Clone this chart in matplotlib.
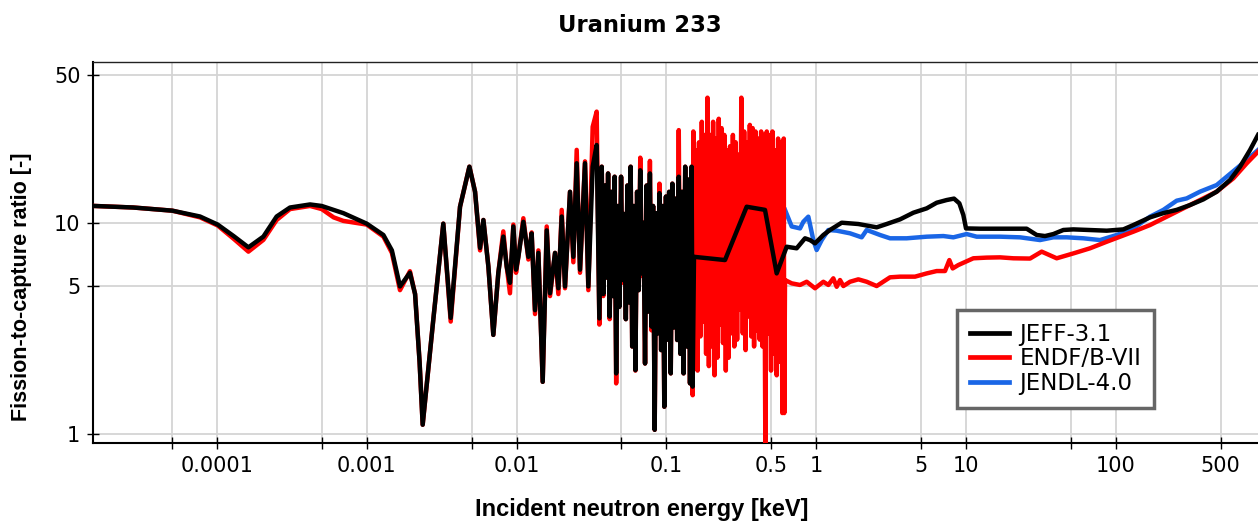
import matplotlib
matplotlib.use("Agg")
import matplotlib.pyplot as plt
from matplotlib.ticker import FixedLocator, FixedFormatter, NullLocator

# ---- JEFF-3.1 ----
# smooth thermal / low resolved range
E_jeff_low = [1.52e-5, 2.76e-5, 5.03e-5, 7.70e-5, 1.01e-4, 1.29e-4, 1.62e-4, 2.04e-4, 2.50e-4,
              3.07e-4, 4.18e-4, 5.00e-4, 6.97e-4, 9.98e-4, 1.29e-3, 1.47e-3, 1.665e-3, 1.94e-3,
              2.10e-3, 2.25e-3, 2.36e-3, 2.78e-3, 3.24e-3, 3.63e-3, 4.19e-3, 4.84e-3, 5.28e-3,
              5.70e-3, 6.00e-3, 6.48e-3, 6.99e-3, 7.55e-3, 8.15e-3, 8.59e-3, 9.03e-3, 9.51e-3,
              9.91e-3, 1.027e-2, 1.109e-2, 1.198e-2, 1.260e-2, 1.327e-2, 1.397e-2, 1.493e-2,
              1.588e-2, 1.671e-2, 1.805e-2, 1.900e-2, 2.000e-2, 2.104e-2, 2.272e-2, 2.392e-2,
              2.518e-2, 2.650e-2, 2.861e-2, 3.012e-2, 3.219e-2, 3.423e-2, 3.567e-2]
R_jeff_low = [12.0, 11.8, 11.4, 10.7, 9.8, 8.65, 7.65, 8.6, 10.7,
              11.8, 12.2, 12.0, 11.1, 9.9, 8.75, 7.4, 5.0, 5.8,
              4.6, 2.2, 1.11, 3.5, 9.9, 3.55, 11.9, 18.4, 14.0,
              7.6, 10.3, 6.2, 2.95, 5.8, 8.6, 6.2, 5.2, 9.6,
              6.0, 6.9, 10.1, 6.9, 8.9, 3.86, 7.2, 1.77,
              9.2, 4.64, 7.2, 4.9, 10.7, 5.0, 14.0, 6.9,
              19.1, 6.0, 19.1, 5.0, 18.4, 23.3, 3.53]
# dense resonance range
E_res = [0.0370, 0.0379, 0.0389, 0.0398, 0.0408, 0.0418, 0.0429, 0.0440, 0.0451, 0.0462,
         0.0474, 0.0485, 0.0498, 0.0510, 0.0523, 0.0536, 0.0549, 0.0563, 0.0577, 0.0591,
         0.0606, 0.0621, 0.0637, 0.0653, 0.0669, 0.0686, 0.0703, 0.0720, 0.0738, 0.0757,
         0.0776, 0.0795, 0.0815, 0.0835, 0.0856, 0.0877, 0.0899, 0.0922, 0.0945, 0.0968,
         0.0993, 0.1017, 0.1043, 0.1069, 0.1096, 0.1123, 0.1151, 0.1180, 0.1209, 0.1240,
         0.1271, 0.1302, 0.1335, 0.1368, 0.1402, 0.1437, 0.1473, 0.1497]
R_jeff_res = [18.4, 4.6, 15, 5.5, 17.1, 3.6, 14, 4.5, 16.5, 1.94,
              12, 4.0, 16.5, 5.36, 11, 3.5, 15, 4.2, 18.4, 2.6,
              12, 2.01, 14, 4.8, 17.7, 5.76, 10, 2.16, 15, 3.8,
              17.1, 3.23, 12, 1.05, 11.1, 3.0, 13.8, 2.5, 12, 1.35,
              13.3, 2.8, 14, 1.94, 15.3, 3.2, 13, 2.79, 16.5, 2.4,
              14, 1.94, 18.4, 2.6, 16, 1.74, 18.4, 1.68]
# unresolved / fast range
E_jeff_high = [0.1528, 0.2461, 0.3434, 0.4551, 0.5446, 0.6353, 0.7405, 0.842, 0.909, 0.982,
               1.116, 1.236, 1.479, 1.911, 2.533, 2.954, 3.627, 4.452, 5.464, 6.372, 7.430,
               8.318, 9.028, 9.600, 10.0, 12.41, 16.87, 25.41, 29.64, 33.69, 38.30, 44.66,
               52.06, 67.27, 86.94, 112.3, 131.0, 169.2, 207.7, 255.0, 313.0, 384.1, 471.6,
               578.8, 675.0, 787.2, 890.3]
R_jeff_high = [6.9, 6.66, 11.9, 11.5, 5.76, 7.7, 7.57, 8.44, 8.28, 7.99,
               8.75, 9.24, 10.0, 9.86, 9.51, 9.86, 10.37, 11.15, 11.69, 12.43, 12.80,
               13.0, 12.35, 10.87, 9.40, 9.37, 9.37, 9.37, 8.75, 8.65, 8.84, 9.24,
               9.30, 9.24, 9.17, 9.30, 9.75, 10.60, 11.1, 11.5, 12.12, 12.89, 14.02,
               15.92, 18.39, 22.06, 26.0]

# ---- ENDF/B-VII ----
E_endf_low = [1.52e-5, 2.76e-5, 5.03e-5, 7.70e-5, 1.01e-4, 1.29e-4, 1.62e-4, 2.04e-4, 2.50e-4,
              3.07e-4, 4.18e-4, 5.00e-4, 6.00e-4, 6.97e-4, 9.98e-4, 1.29e-3, 1.47e-3, 1.665e-3,
              1.94e-3, 2.10e-3, 2.25e-3, 2.36e-3, 2.78e-3, 3.24e-3, 3.63e-3, 4.19e-3, 4.84e-3,
              5.28e-3, 5.70e-3, 6.00e-3, 6.48e-3, 6.99e-3, 7.55e-3, 8.15e-3, 8.59e-3, 9.03e-3,
              9.51e-3, 9.91e-3, 1.027e-2, 1.109e-2, 1.198e-2, 1.260e-2, 1.327e-2, 1.397e-2,
              1.493e-2, 1.588e-2, 1.671e-2, 1.805e-2, 1.900e-2, 2.000e-2, 2.104e-2, 2.272e-2,
              2.392e-2, 2.518e-2, 2.650e-2, 2.861e-2, 3.012e-2, 3.219e-2, 3.423e-2, 3.567e-2]
R_endf_low = [12.0, 11.8, 11.4, 10.6, 9.7, 8.4, 7.3, 8.3, 10.3,
              11.6, 12.0, 11.6, 10.6, 10.2, 9.8, 8.6, 7.2, 4.8,
              5.9, 4.6, 2.2, 1.11, 3.5, 9.9, 3.41, 11.9, 18.4,
              14.0, 7.4, 10.3, 6.2, 2.95, 5.8, 9.1, 6.2, 4.64,
              9.8, 5.8, 6.9, 10.5, 6.7, 9.0, 3.7, 7.4,
              1.77, 9.6, 4.5, 7.2, 4.6, 11.5, 4.9, 14.0,
              6.5, 22.1, 5.8, 19.5, 4.8, 28.4, 33.5, 3.3]
R_endf_res = [18.4, 4.5, 15, 5.5, 17.1, 3.5, 14, 4.5, 16.5, 1.74,
              12, 4.0, 16.5, 5.2, 11, 3.5, 15, 4.2, 18.4, 2.6,
              12, 2.0, 14, 4.8, 20.3, 5.6, 10, 2.16, 15, 3.8,
              19.6, 3.1, 12, 1.05, 11.1, 3.0, 15.3, 2.5, 12, 1.35,
              13.3, 2.8, 14, 1.94, 15.3, 3.2, 13, 2.79, 27.4, 2.4,
              14, 1.94, 18.4, 2.6, 16, 1.74, 18.4, 1.53]
E_endf_ext = [0.1513, 0.1546, 0.1580, 0.1615, 0.1650, 0.1686, 0.1723, 0.1761, 0.1800, 0.1840,
              0.1880, 0.1921, 0.1963, 0.2006, 0.2050, 0.2095, 0.2141, 0.2188, 0.2236, 0.2285,
              0.2335, 0.2386, 0.2438, 0.2492, 0.2547, 0.2603, 0.2660, 0.2718, 0.2778, 0.2839,
              0.2901, 0.2965, 0.3030, 0.3096, 0.3164, 0.3234, 0.3305, 0.3377, 0.3451, 0.3527,
              0.3605, 0.3684, 0.3765, 0.3848, 0.3932, 0.4018, 0.4106, 0.4197, 0.4289, 0.4383,
              0.4479, 0.4578, 0.4678, 0.4781, 0.4886, 0.4993, 0.5103, 0.5215, 0.5330, 0.5447,
              0.5567, 0.5689, 0.5814, 0.5942, 0.6072, 0.612]
R_endf_ext = [27, 2.6, 22, 2.0, 24, 2.9, 30, 3.4, 26, 2.4,
              39, 2.1, 26, 2.6, 30, 1.9, 25, 2.3, 31, 3.3,
              28, 2.7, 26, 2.0, 22, 2.3, 23, 3.0, 26, 2.6,
              24, 2.8, 21, 3.9, 39, 3.0, 27, 2.5, 24, 3.6,
              29, 2.9, 28, 2.6, 27, 3.1, 25, 2.8, 27, 2.6,
              26, 0.78, 27, 3.0, 26, 2.0, 27, 2.4, 22, 1.9,
              25, 2.2, 24, 1.26, 25, 1.26]
E_endf_high = [0.619, 0.686, 0.780, 0.864, 0.982, 1.116, 1.205, 1.301, 1.370, 1.442, 1.518,
               1.682, 1.911, 2.173, 2.533, 3.110, 3.627, 4.567, 5.464, 6.372, 7.242, 7.741,
               8.148, 8.890, 11.19, 13.74, 16.87, 20.70, 26.75, 32.0, 40.31, 52.06, 67.27,
               86.94, 106.7, 131.0, 169.2, 218.6, 282.5, 364.9, 471.6, 609.2, 747.8, 890.3]
R_endf_high = [5.36, 5.17, 5.08, 5.26, 4.90, 5.26, 5.08, 5.46, 4.98, 5.36, 5.02,
               5.26, 5.40, 5.26, 5.02, 5.52, 5.56, 5.56, 5.76, 5.91, 5.91, 6.66,
               6.08, 6.31, 6.79, 6.84, 6.86, 6.79, 6.77, 7.30, 6.79, 7.16, 7.57,
               8.13, 8.59, 9.07, 9.75, 10.68, 11.69, 12.80, 14.02, 16.21, 19.08, 21.67]

# ---- JENDL-4.0 ----
E_jendl = [0.619, 0.686, 0.780, 0.821, 0.886, 0.957, 1.007, 1.088, 1.205, 1.370, 1.682,
           2.012, 2.173, 2.667, 3.110, 4.018, 5.464, 7.060, 8.232, 10.10, 11.78, 16.87,
           22.94, 31.19, 38.30, 46.99, 60.72, 78.46, 101.4, 131.0, 169.2, 207.7, 255.0,
           297.3, 364.9, 471.6, 549.9, 641.3, 747.8, 890.3]
R_jendl = [11.5, 9.6, 9.40, 10.11, 10.68, 8.28, 7.43, 8.28, 9.24, 9.17, 8.91,
           8.53, 9.24, 8.75, 8.44, 8.44, 8.59, 8.65, 8.53, 8.84, 8.59, 8.59,
           8.53, 8.28, 8.53, 8.53, 8.44, 8.28, 8.75, 9.40, 10.68, 11.5, 12.71,
           13.03, 14.02, 15.07, 16.5, 18.06, 19.79, 22.06]

x_ticks = [5e-5, 1e-4, 5e-4, 1e-3, 5e-3, 1e-2, 5e-2, 0.1, 0.5, 1, 5, 10, 50, 100, 500]
x_tick_labels = ["", "0.0001", "", "0.001", "", "0.01", "", "0.1", "0.5", "1", "5", "10",
                 "", "100", "500"]
y_ticks = [1, 5, 10, 50]
y_tick_labels = ["1", "5", "10", "50"]

E_jeff = E_jeff_low + E_res + E_jeff_high
R_jeff = R_jeff_low + R_jeff_res + R_jeff_high
E_endf = E_endf_low + E_res + E_endf_ext + E_endf_high
R_endf = R_endf_low + R_endf_res + R_endf_ext + R_endf_high

W, H = 1258, 523
fig = plt.figure(figsize=(W / 100, H / 100), dpi=100)
ax = fig.add_axes([93.3 / W, (H - 442.7) / H, (W - 93.3) / W, (442.7 - 62.3) / H])

lw = 3.2
l_jendl, = ax.plot(E_jendl, R_jendl, color="#1a66e6", lw=lw, zorder=2)
l_endf, = ax.plot(E_endf, R_endf, color="#ff0000", lw=lw, zorder=3)
l_jeff, = ax.plot(E_jeff, R_jeff, color="#000000", lw=lw, zorder=4)

ax.set_xscale("log")
ax.set_yscale("log")
ax.set_xlim(1.493e-5, 889.8)
ax.set_ylim(0.9127, 57.3)

ax.xaxis.set_major_locator(FixedLocator(x_ticks))
ax.xaxis.set_major_formatter(FixedFormatter(x_tick_labels))
ax.xaxis.set_minor_locator(NullLocator())
ax.yaxis.set_major_locator(FixedLocator(y_ticks))
ax.yaxis.set_major_formatter(FixedFormatter(y_tick_labels))
ax.yaxis.set_minor_locator(NullLocator())

ax.tick_params(axis="both", which="major", direction="inout", length=8.6, width=1.0,
               labelsize=15, colors="black")
ax.tick_params(axis="x", pad=5.5)
ax.tick_params(axis="y", pad=5.0)

ax.grid(True, color="#d4d4d4", linewidth=1.3)
ax.set_axisbelow(True)

ax.spines["right"].set_visible(False)
for side in ("left", "bottom"):
    ax.spines[side].set_linewidth(1.5)
    ax.spines[side].set_color("black")
ax.spines["top"].set_linewidth(1.0)
ax.spines["top"].set_color("#222222")

leg = ax.legend([l_jeff, l_endf, l_jendl], ["JEFF-3.1", "ENDF/B-VII", "JENDL-4.0"],
                loc="upper left", bbox_to_anchor=(957 / W, 1 - 310 / H),
                bbox_transform=fig.transFigure, frameon=True, fancybox=False,
                fontsize=16.5, handlelength=1.7, handletextpad=0.48, borderpad=0.55,
                labelspacing=0.08, borderaxespad=0.0, framealpha=1.0)
leg.get_frame().set_edgecolor("#666666")
leg.get_frame().set_linewidth(2.5)
for line in leg.get_lines():
    line.set_linewidth(3.4)

fig.text(640 / W, 1 - 31.7 / H, "Uranium 233", ha="center", va="baseline",
         fontsize=16.3, fontweight="bold", family="DejaVu Sans")
fig.text(642 / W, 1 - 515.7 / H, "Incident neutron energy [keV]", ha="center",
         va="baseline", fontsize=17, fontweight="bold", family="Liberation Sans")
fig.text(21.5 / W, 1 - 287 / H, "Fission-to-capture ratio [-]", rotation=90, ha="center",
         va="center", fontsize=15.5, fontweight="bold", family="Liberation Sans")

fig.savefig("out.png", dpi=100, facecolor="white")
